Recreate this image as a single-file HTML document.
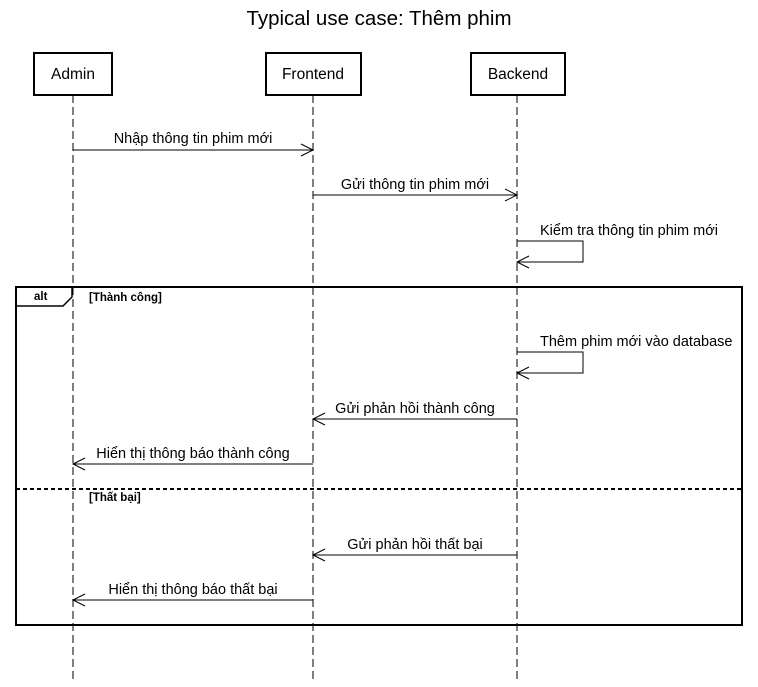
<!DOCTYPE html>
<html><head><meta charset="utf-8"><style>body{margin:0;background:#fff}</style></head><body>
<svg width="758" height="682" xmlns="http://www.w3.org/2000/svg" font-family="Liberation Sans, Arial, sans-serif">
<rect width="758" height="682" fill="#fff"/>
<text x="379" y="25" font-size="20.5" text-anchor="middle">Typical use case: Thêm phim</text>
<g stroke="#000" stroke-width="1" stroke-dasharray="8,4">
<line x1="73" y1="95" x2="73" y2="682"/>
<line x1="313" y1="95" x2="313" y2="682"/>
<line x1="517" y1="95" x2="517" y2="682"/>
</g>
<g fill="#fff" stroke="#000" stroke-width="2">
<rect x="34" y="53" width="78" height="42"/>
<rect x="266" y="53" width="95" height="42"/>
<rect x="471" y="53" width="94" height="42"/>
</g>
<g font-size="15.5" text-anchor="middle">
<text x="73" y="79">Admin</text>
<text x="313" y="79">Frontend</text>
<text x="518" y="79">Backend</text>
</g>
<rect x="16" y="287" width="726" height="338" fill="none" stroke="#000" stroke-width="2"/>
<path d="M16 306 H63 L72 297 V287" fill="none" stroke="#000" stroke-width="1.5"/>
<line x1="16" y1="489" x2="742" y2="489" stroke="#000" stroke-width="2" stroke-dasharray="4,3"/>
<g font-size="11.5" font-weight="bold">
<text x="34" y="300">alt</text>
<text x="89" y="301">[Thành công]</text>
<text x="89" y="501">[Thất bại]</text>
</g>
<g stroke="#000" stroke-width="1" fill="none">
<path d="M73 150 H313 M301 144 L313 150 L301 156"/>
<path d="M313 195 H517 M505 189 L517 195 L505 201"/>
<path d="M517 241 H583 V262 H517 M529 256 L517 262 L529 268"/>
<path d="M517 352 H583 V373 H517 M529 367 L517 373 L529 379"/>
<path d="M517 419 H313 M325 413 L313 419 L325 425"/>
<path d="M313 464 H73 M85 458 L73 464 L85 470"/>
<path d="M517 555 H313 M325 549 L313 555 L325 561"/>
<path d="M313 600 H73 M85 594 L73 600 L85 606"/>
</g>
<g font-size="14.5">
<text x="193" y="143" text-anchor="middle">Nhập thông tin phim mới</text>
<text x="415" y="189" text-anchor="middle">Gửi thông tin phim mới</text>
<text x="540" y="235">Kiểm tra thông tin phim mới</text>
<text x="540" y="346">Thêm phim mới vào database</text>
<text x="415" y="413" text-anchor="middle">Gửi phản hồi thành công</text>
<text x="193" y="458" text-anchor="middle">Hiển thị thông báo thành công</text>
<text x="415" y="549" text-anchor="middle">Gửi phản hồi thất bại</text>
<text x="193" y="594" text-anchor="middle">Hiển thị thông báo thất bại</text>
</g>
</svg>
</body></html>
